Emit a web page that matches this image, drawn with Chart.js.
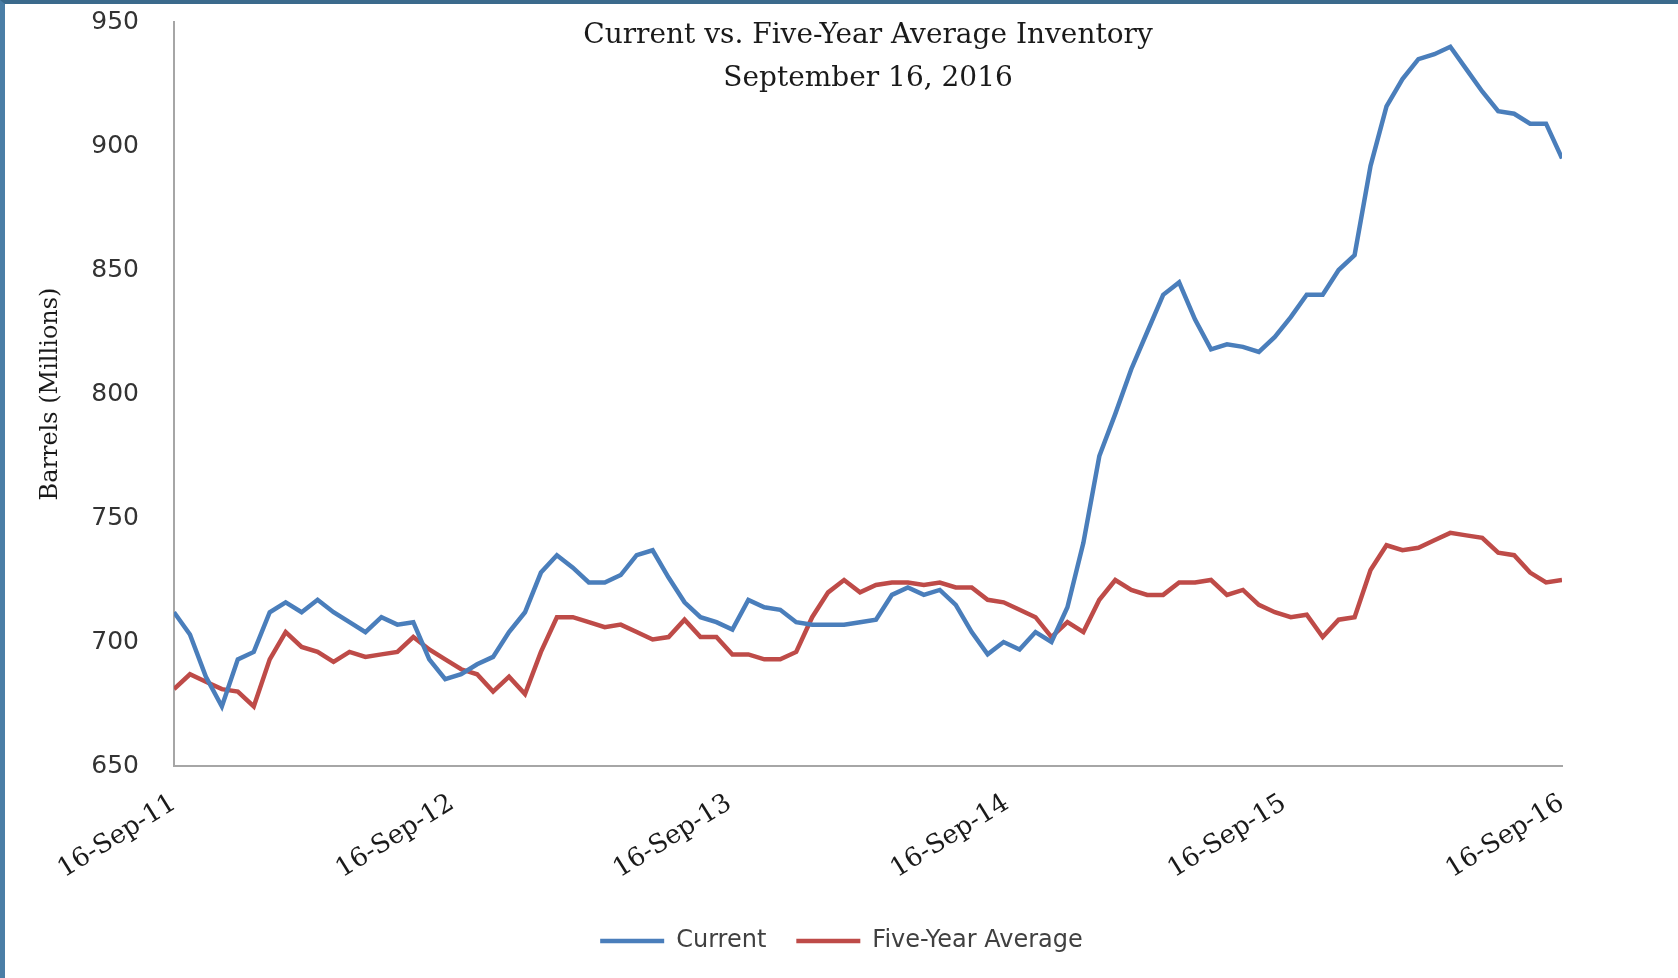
<!doctype html>
<html><head>
<meta charset="utf-8">
<script src="https://cdn.jsdelivr.net/npm/chart.js"></script>
<style type="text/css">
html, body { margin: 0; padding: 0; background: #fff; }
#frame { position: absolute; left: 0; top: 0; width: 1673px; height: 974px;
         border-left: 5px solid #4a7ea6; border-top: 4px solid #3b6a8c; background: #fff; }
#frame canvas { display: block; }
</style>
</head>
<body>
<div id="frame"><canvas id="myChart" width="1673" height="974"></canvas></div>

<script type="text/javascript">
// weekly inventory, one reading every 3 weeks from 16-Sep-2011
var startDate = Date.UTC(2011, 8, 16);
var stepWeeks = 3;

var current = [
    712, 703, 686, 674, 693, 696, 712, 716, 712, 717,
    712, 708, 704, 710, 707, 708, 693, 685, 687, 691,
    694, 704, 712, 728, 735, 730, 724, 724, 727, 735,
    737, 726, 716, 710, 708, 705, 717, 714, 713, 708,
    707, 707, 707, 708, 709, 719, 722, 719, 721, 715,
    704, 695, 700, 697, 704, 700, 714, 740, 775, 792,
    810, 825, 840, 845, 830, 818, 820, 819, 817, 823,
    831, 840, 840, 850, 856, 892, 916, 927, 935, 937,
    940, 931, 922, 914, 913, 909, 909, 895
];
var fiveYearAvg = [
    681, 687, 684, 681, 680, 674, 693, 704, 698, 696,
    692, 696, 694, 695, 696, 702, 697, 693, 689, 687,
    680, 686, 679, 696, 710, 710, 708, 706, 707, 704,
    701, 702, 709, 702, 702, 695, 695, 693, 693, 696,
    710, 720, 725, 720, 723, 724, 724, 723, 724, 722,
    722, 717, 716, 713, 710, 702, 708, 704, 717, 725,
    721, 719, 719, 724, 724, 725, 719, 721, 715, 712,
    710, 711, 702, 709, 710, 729, 739, 737, 738, 741,
    744, 743, 742, 736, 735, 728, 724, 725
];

var tickLabels = ['16-Sep-11', '16-Sep-12', '16-Sep-13', '16-Sep-14', '16-Sep-15', '16-Sep-16'];
var tickDates = [
    Date.UTC(2011, 8, 16), Date.UTC(2012, 8, 16), Date.UTC(2013, 8, 16),
    Date.UTC(2014, 8, 16), Date.UTC(2015, 8, 16), Date.UTC(2016, 8, 16)
];
var yTicks = [650, 700, 750, 800, 850, 900, 950];

var titleLines = ['Current vs. Five-Year Average Inventory', 'September 16, 2016'];

var weekMs = 7 * 24 * 3600 * 1000;
var tickWeeks = tickDates.map(function(d) { return (d - startDate) / weekMs; });

function toPoints(arr) {
    return arr.map(function(v, i) { return {x: i * stepWeeks, y: v}; });
}

// title sits inside the plot area, like the original
var innerTitle = {
    id: 'innerTitle',
    afterDraw: function(chart) {
        var ctx = chart.ctx, a = chart.chartArea;
        var cx = (a.left + a.right) / 2;
        ctx.save();
        ctx.fillStyle = '#1a1a1a';
        ctx.font = '28px "DejaVu Serif"';
        ctx.textAlign = 'center';
        ctx.textBaseline = 'middle';
        ctx.fillText(titleLines[0], cx, 32);
        ctx.fillText(titleLines[1], cx, 75);
        ctx.restore();
    }
};

var axisGray = '#a6a6a6';

var myChart = new Chart(document.getElementById('myChart'), {
    type: 'line',
    data: {
        datasets: [{
            label: 'Current',
            data: toPoints(current),
            borderColor: '#4a7ebb',
            backgroundColor: '#4a7ebb',
            borderWidth: 4.5,
            pointRadius: 0,
            tension: 0
        }, {
            label: 'Five-Year Average',
            data: toPoints(fiveYearAvg),
            borderColor: '#be4b48',
            backgroundColor: '#be4b48',
            borderWidth: 4.5,
            pointRadius: 0,
            tension: 0
        }]
    },
    options: {
        responsive: false,
        animation: false,
        layout: { padding: { left: 0, right: 0, top: 18, bottom: 15 } },
        plugins: {
            tooltip: { enabled: false },
            legend: {
                position: 'bottom',
                labels: {
                    usePointStyle: true,
                    pointStyle: 'line',
                    pointStyleWidth: 64,
                    padding: 30,
                    color: '#404040',
                    font: { family: '"DejaVu Sans"', size: 24 }
                }
            }
        },
        scales: {
            x: {
                type: 'linear',
                min: tickWeeks[0],
                max: tickWeeks[tickWeeks.length - 1],
                grid: { display: false, drawTicks: false },
                border: { display: true, color: axisGray, width: 2 },
                afterBuildTicks: function(scale) {
                    scale.ticks = tickWeeks.map(function(v) { return {value: v}; });
                },
                afterFit: function(scale) { scale.height = 133; },
                ticks: {
                    autoSkip: false,
                    minRotation: 32,
                    maxRotation: 32,
                    padding: 22,
                    color: '#1a1a1a',
                    font: { family: '"DejaVu Serif"', size: 26 },
                    callback: function(value, index) { return tickLabels[index]; }
                }
            },
            y: {
                min: yTicks[0],
                max: yTicks[yTicks.length - 1],
                grid: { display: false, drawTicks: true, tickLength: 32 },
                border: { display: true, color: axisGray, width: 2 },
                afterBuildTicks: function(scale) {
                    scale.ticks = yTicks.map(function(v) { return {value: v}; });
                },
                afterFit: function(scale) { scale.width = 169; },
                ticks: {
                    padding: 3,
                    color: '#333333',
                    font: { family: '"DejaVu Sans"', size: 25 }
                },
                title: {
                    display: true,
                    text: 'Barrels (Millions)',
                    color: '#1a1a1a',
                    padding: { top: 31, bottom: 0 },
                    font: { family: '"DejaVu Serif"', size: 24 }
                }
            },
            // empty strip on the right, keeps the legend centred like the original
            yRight: {
                position: 'right',
                grid: { display: false, drawTicks: false },
                border: { display: false },
                ticks: { display: false },
                afterFit: function(scale) { scale.width = 116; }
            }
        }
    },
    plugins: [innerTitle]
});
</script>
</body>
</html>
